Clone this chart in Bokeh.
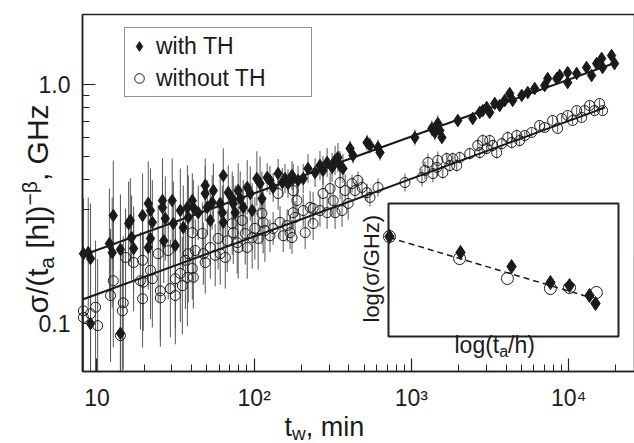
import numpy as np
from bokeh.plotting import figure
from bokeh.models import (Range1d, LinearScale, FixedTicker, Label, BoxAnnotation,
                          Legend, LegendItem)
from bokeh.embed import file_html
from bokeh.resources import INLINE

# ---------------- data ----------------
# with TH (filled diamonds): waiting time t_w [min], sigma/(t_a)^-beta [GHz]
tw_th = [8.2, 8.8, 9.1, 9.1, 12.0, 12.5, 14.1, 12.7, 14.1, 15.9, 16.3, 16.6, 17.1, 19.5, 21.2,
         21.9, 22.5, 21.9, 21.2, 26.1, 26.1, 27.2, 26.6, 30.1, 30.6, 31.5, 33.9, 35.4, 37.6,
         40.4, 41.0, 38.1, 44.1, 48.8, 50.3, 48.8, 55.0, 54.1, 52.6, 60.8, 62.7, 63.6, 63.6,
         68.4, 72.5, 73.6, 75.7, 79.1, 81.5, 85.2, 90.3, 94.4, 97.1, 104, 109, 112, 121, 126,
         132, 142, 151, 157, 164, 174,
         177, 190, 205, 220, 244, 262, 274, 291, 313, 327, 341, 352, 367, 407, 425, 522, 545,
         613, 631,
         1052, 1349, 1409, 1517, 1563, 1472, 1973, 2455, 2721, 2844, 3013, 3149, 3388, 3645,
         3926, 4218, 4406, 5033,
         5495, 6085, 7040, 7360, 8400, 8770, 9860, 9860, 11250, 13000, 14000, 15070, 16220,
         16450, 18750, 19590]
sigma_th = [0.196, 0.198, 0.187, 0.100, 0.216, 0.198, 0.204, 0.283, 0.091, 0.262, 0.270, 0.229,
            0.206, 0.283, 0.318, 0.297, 0.265, 0.227, 0.208, 0.327, 0.306, 0.275, 0.222, 0.327,
            0.262, 0.212, 0.297, 0.252, 0.306,
            0.327, 0.306, 0.278, 0.291, 0.378, 0.306, 0.350, 0.360, 0.321, 0.270, 0.318, 0.291,
            0.416, 0.265, 0.353, 0.333, 0.318, 0.291, 0.360, 0.333, 0.306, 0.371, 0.350, 0.297,
            0.404, 0.385, 0.333, 0.408, 0.397, 0.371, 0.424, 0.389, 0.404, 0.385, 0.416,
            0.404, 0.397, 0.404, 0.445, 0.428, 0.458, 0.437, 0.472, 0.450, 0.481, 0.495, 0.458,
            0.445, 0.540, 0.505, 0.572, 0.556, 0.545, 0.519,
            0.600, 0.655, 0.630, 0.642, 0.600, 0.687, 0.707, 0.721, 0.764, 0.778, 0.801, 0.764,
            0.833, 0.817, 0.858, 0.917, 0.858, 0.900,
            0.926, 0.962, 0.990, 1.059, 1.059, 1.091, 1.122, 1.019, 1.112, 1.178, 1.091, 1.224,
            1.285, 1.178, 1.322, 1.224]

# without TH (open circles)
tw_wo = [8.2, 8.2, 9.1, 9.8, 10.1, 12.2, 12.7, 14.5, 14.7, 14.1, 15.2, 17.1, 19.5, 18.9, 19.5,
         19.7, 21.9, 22.5, 24.5, 25.3, 25.3, 28.4, 29.3, 31.5, 31.5, 33.9, 34.9, 36.5, 37.6,
         40.4, 38.1, 40.4, 41.0, 42.2, 46.8, 47.5, 48.8, 52.6, 56.5, 59.0, 60.8, 65.5, 67.4,
         72.5, 73.6, 78.0, 79.1, 84.0, 87.7, 90.3, 97.1, 101, 106, 112, 114, 117, 126, 132,
         142, 146, 153, 162, 169, 177,
         177, 187, 182, 174, 205, 211, 227, 237, 237, 262, 274, 291, 304, 318, 327, 352, 362,
         379, 396, 419, 438, 457, 485, 522, 545, 613,
         910, 1167, 1219, 1274, 1371, 1452, 1472, 1585, 1679, 1755, 1834, 1943, 2031, 2350,
         2642, 2721, 2844, 3013, 3149, 3290, 3488, 3758, 4102, 4345, 4677, 4883,
         5260, 5820, 6540, 7040, 7910, 8510, 9030, 9860, 10600, 11250, 12100, 12650, 13590,
         14620, 15730, 16450]
sigma_wo = [0.113, 0.106, 0.110, 0.117, 0.098, 0.131, 0.151, 0.113, 0.122, 0.089, 0.189, 0.180,
            0.184, 0.151, 0.127, 0.149, 0.167, 0.154, 0.196, 0.137, 0.128, 0.202, 0.140, 0.154,
            0.131, 0.162, 0.144, 0.184, 0.156,
            0.240, 0.196, 0.170, 0.156, 0.202, 0.238, 0.196, 0.180, 0.208, 0.193, 0.227, 0.196,
            0.189, 0.222, 0.262, 0.240, 0.218, 0.208, 0.270, 0.238, 0.208, 0.229, 0.250, 0.227,
            0.289, 0.265, 0.245, 0.233, 0.250, 0.350, 0.265, 0.233, 0.257, 0.240, 0.291,
            0.360, 0.327, 0.278, 0.229, 0.297, 0.240, 0.306, 0.262, 0.303, 0.297, 0.350, 0.291,
            0.367, 0.327, 0.291, 0.389, 0.297, 0.360, 0.318, 0.385, 0.360, 0.397, 0.371, 0.353,
            0.337, 0.371,
            0.389, 0.408, 0.437, 0.472, 0.424, 0.450, 0.481, 0.428, 0.490, 0.458, 0.490, 0.458,
            0.495, 0.514, 0.556, 0.519, 0.583, 0.540, 0.583, 0.556, 0.519, 0.566, 0.600, 0.572,
            0.612, 0.583,
            0.612, 0.630, 0.674, 0.661, 0.707, 0.655, 0.721, 0.742, 0.707, 0.778, 0.728, 0.778,
            0.817, 0.778, 0.833, 0.778]

# relative error-bar size (multiplicative) by t_w range
err_edges_tw = [15, 40, 120, 400, 1500, 5000]
err_factor_th = [1.7, 1.5, 1.3, 1.15, 1.08, 1.05, 1.04]
err_factor_wo = [1.9, 1.6, 1.35, 1.17, 1.09, 1.06, 1.04]

# power-law fits (end points)
fit_tw_th = [8.1, 19600]
fit_sigma_th = [0.193, 1.23]
fit_tw_wo = [8.1, 17000]
fit_sigma_wo = [0.126, 0.80]

# inset: log(sigma/GHz) vs log(t_a/h), arbitrary units (no tick labels)
inset_x_th = [0.004, 0.313, 0.535, 0.704, 0.787, 0.874, 0.900]
inset_y_th = [0.752, 0.632, 0.526, 0.406, 0.383, 0.308, 0.248]
inset_x_wo = [0.004, 0.309, 0.517, 0.704, 0.787, 0.904]
inset_y_wo = [0.752, 0.586, 0.436, 0.361, 0.368, 0.331]
inset_fit_x = [0.004, 0.878]
inset_fit_y = [0.744, 0.293]

x_bounds = (8.09, 26240)
y_bounds = (0.063, 1.963)
x_major = [10, 100, 1000, 10000]
x_labels = ["10", "10²", "10³", "10⁴"]
y_major = [0.1, 1.0]
y_labels = ["0.1", "1.0"]

# ---------------- layout ----------------
W, H = 634, 443
# plot box inside the canvas (px): left, right, top, bottom
BOX_L, BOX_R, BOX_T, BOX_B = 82, 634, 14, 371
INK = "#1a1a1a"
LINE = "#222222"
FONT = "Liberation Sans"

lx0, lx1 = np.log10(x_bounds)
ly0, ly1 = np.log10(y_bounds)
kx = (lx1 - lx0) / (BOX_R - BOX_L)
ky = (ly1 - ly0) / (BOX_B - BOX_T)
x_full = (10 ** (lx0 - BOX_L * kx), 10 ** (lx1 + (W - BOX_R) * kx))
y_full = (10 ** (ly0 - (H - BOX_B) * ky), 10 ** (ly1 + BOX_T * ky))

p = figure(width=W, height=H, x_axis_type="log", y_axis_type="log",
           x_range=Range1d(*x_full), y_range=Range1d(*y_full),
           output_backend="svg", toolbar_location=None,
           min_border_left=0, min_border_right=0, min_border_top=0, min_border_bottom=0)
p.background_fill_color = "white"
p.border_fill_color = "white"
p.outline_line_color = None
p.xgrid.visible = False
p.ygrid.visible = False

minor_x = [m * d for d in (1, 10, 100, 1000) for m in range(20, 100, 10)]
minor_y = [m / 10 for m in range(2, 10)]
p.xaxis.ticker = FixedTicker(ticks=x_major, minor_ticks=minor_x)
p.yaxis.ticker = FixedTicker(ticks=y_major, minor_ticks=minor_y)
p.xaxis.major_label_overrides = dict(zip(x_major, x_labels))
p.yaxis.major_label_overrides = dict(zip(y_major, y_labels))
p.xaxis.fixed_location = y_bounds[0]
p.yaxis.fixed_location = x_bounds[0]
p.xaxis.bounds = x_bounds
p.yaxis.bounds = y_bounds
for ax in (p.xaxis, p.yaxis):
    ax.axis_line_color = LINE
    ax.axis_line_width = 1.5
    ax.major_tick_line_color = LINE
    ax.minor_tick_line_color = LINE
    ax.major_tick_line_width = 1.2
    ax.minor_tick_line_width = 1.0
    ax.major_tick_in = 13
    ax.major_tick_out = 0
    ax.minor_tick_in = 7
    ax.minor_tick_out = 0
    ax.major_label_text_font = FONT
    ax.major_label_text_font_size = "23px"
    ax.major_label_text_color = INK
p.xaxis.major_label_standoff = 13
p.yaxis.major_label_standoff = 12

# plot box border
p.add_layout(BoxAnnotation(left=x_bounds[0], right=x_bounds[1], bottom=y_bounds[0],
                           top=y_bounds[1], fill_alpha=0, line_color=LINE, line_width=1.5,
                           line_alpha=1))

# inset coordinate system (extra linear ranges mapped onto an inner box)
IN_L, IN_R, IN_T, IN_B = 388, 618, 203, 336
iw, ih = IN_R - IN_L, IN_B - IN_T
p.extra_x_ranges = {"inset": Range1d(-IN_L / iw, (W - IN_L) / iw)}
p.extra_y_ranges = {"inset": Range1d((IN_B - H) / ih, IN_B / ih)}
p.extra_x_scales = {"inset": LinearScale()}
p.extra_y_scales = {"inset": LinearScale()}

# ---------------- main data ----------------
tw_th_a, s_th_a = np.array(tw_th), np.array(sigma_th)
tw_wo_a, s_wo_a = np.array(tw_wo), np.array(sigma_wo)
f_th = np.array(err_factor_th)[np.digitize(tw_th_a, err_edges_tw)]
f_wo = np.array(err_factor_wo)[np.digitize(tw_wo_a, err_edges_tw)]


def clipy(v):
    return np.clip(v, y_bounds[0], y_bounds[1])


p.segment(tw_wo_a, clipy(s_wo_a / f_wo), tw_wo_a, clipy(s_wo_a * f_wo),
          line_color="#555555", line_width=1)
p.segment(tw_th_a, clipy(s_th_a / f_th), tw_th_a, clipy(s_th_a * f_th),
          line_color="#555555", line_width=1)

p.line(fit_tw_wo, fit_sigma_wo, line_color=INK, line_width=2)
p.line(fit_tw_th, fit_sigma_th, line_color=INK, line_width=2)

r_wo = p.scatter(tw_wo_a, s_wo_a, marker="circle", size=10, fill_color=None,
                 line_color=INK, line_width=1)
r_th = p.scatter(tw_th_a, s_th_a, marker="diamond", size=12.5,
                 fill_color=INK, line_color=INK, line_width=1)

legend = Legend(items=[LegendItem(label="with TH", renderers=[r_th]),
                       LegendItem(label="without TH", renderers=[r_wo])],
                location=(124, H - 97), padding=2, spacing=0, margin=0,
                glyph_width=24, glyph_height=32, label_height=32, label_width=153,
                label_standoff=5, label_text_font=FONT, label_text_font_size="23px",
                label_text_color=INK, border_line_color=LINE, border_line_width=1.5,
                background_fill_color="white", background_fill_alpha=1)
p.add_layout(legend)

# ---------------- inset ----------------
p.add_layout(BoxAnnotation(left=0, right=1, bottom=0, top=1, x_range_name="inset",
                           y_range_name="inset", fill_alpha=0, line_color=LINE,
                           line_width=2, line_alpha=1))
p.line(inset_fit_x, inset_fit_y, x_range_name="inset", y_range_name="inset",
       line_color=INK, line_width=1.5, line_dash="6 4")
p.scatter(inset_x_wo, inset_y_wo, x_range_name="inset", y_range_name="inset",
          marker="circle", size=12, fill_color=None, line_color=INK, line_width=1)
p.scatter(inset_x_th, inset_y_th, x_range_name="inset", y_range_name="inset",
          marker="diamond", size=14, fill_color=INK, line_color=INK)

MID = 0.35  # distance of the text's middle line above its baseline, in em


def lab(text, x, base, size, angle=0.0):
    # x: canvas px from the left; base: baseline position (px from the top, or,
    # for rotated text, the baseline's x while x is then the start position along y)
    if angle == 0.0:
        sx, sy = x, base - MID * size
    else:
        sx, sy = base - MID * size, x
    p.add_layout(Label(x=sx, y=H - sy, x_units="screen", y_units="screen", text=text,
                       text_font=FONT, text_font_size=f"{size}px", text_color=INK,
                       text_align="left", text_baseline="middle", angle=angle))


R = np.pi / 2
# x-axis title: t_w, min
lab("t", 284, 436, 27)
lab("w", 291.5, 439.5, 19)
lab(", min", 305.2, 436, 27)
# y-axis title: sigma/(t_a [h])^-beta, GHz (rotated, read upward)
lab("σ/(t", 313, 47, 30, R)
lab("a", 268.3, 53, 21, R)
lab("[h])", 248.3, 47, 30, R)
lab("−β", 204.9, 36, 21, R)
lab(", GHz", 180.6, 47, 30, R)
# inset titles
lab("log(σ/GHz)", 322, 379, 22, R)
lab("log(t", 454, 353, 23)
lab("a", 498.7, 357, 16)
lab("/h)", 507.6, 353, 23)

open("out.html", "w").write(file_html(p, INLINE, "sigma vs t_w"))
